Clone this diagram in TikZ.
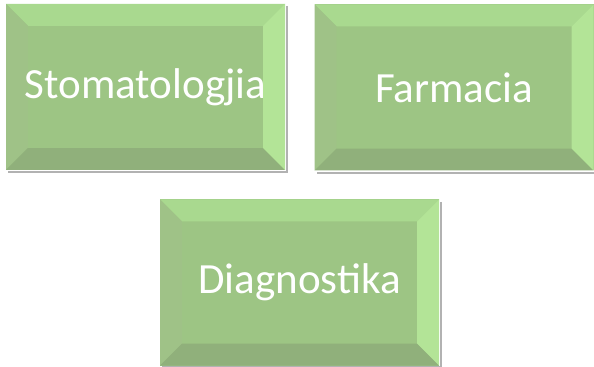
\documentclass[tikz,border=0pt]{standalone}
\usepackage{fontspec}
\setmainfont{Carlito}
\usepackage{tikz}

\definecolor{boxgreen}{HTML}{9DC584}
\definecolor{bevtop}{HTML}{A9D98F}
\definecolor{bevleft}{HTML}{9FC287}
\definecolor{bevbottom}{HTML}{90B07B}
\definecolor{bevright}{HTML}{B3E497}

\begin{document}
\begin{tikzpicture}[x=0.02cm, y=-0.02cm, every node/.style={font=\fontsize{24.5}{29}\selectfont}]
		\useasboundingbox (0,0) rectangle (594,367);
		\tikzset{
			bevelbox/.style={minimum width=279*0.02cm, minimum height=166*0.02cm,
				inner sep=0pt, fill=boxgreen, text=white,
				path picture={
					\path (path picture bounding box.north west) coordinate (nw)
						(path picture bounding box.south east) coordinate (se)
						(path picture bounding box.north east) coordinate (ne)
						(path picture bounding box.south west) coordinate (sw);
					\fill[bevtop] (nw) -- (ne) -- ([shift={(-0.44cm,-0.44cm)}]ne) -- ([shift={(0.44cm,-0.44cm)}]nw) -- cycle;
					\fill[bevleft] (nw) -- ([shift={(0.44cm,-0.44cm)}]nw) -- ([shift={(0.44cm,0.44cm)}]sw) -- (sw) -- cycle;
					\fill[bevbottom] (sw) -- ([shift={(0.44cm,0.44cm)}]sw) -- ([shift={(-0.44cm,0.44cm)}]se) -- (se) -- cycle;
					\fill[bevright] (se) -- ([shift={(-0.44cm,0.44cm)}]se) -- ([shift={(-0.44cm,-0.44cm)}]ne) -- (ne) -- cycle;
				}},
			boxshadow/.style={draw=black!30, line width=1.2pt}
		}
		
		% shadows
		\draw[boxshadow] (287,6) -- (287,172) -- (8,172);
		\draw[boxshadow] (595,6) -- (595,173) -- (317,173);
		\draw[boxshadow] (441,202) -- (441,367) -- (162,367);
		
		\node[bevelbox] (stoma) at (145.5,87) {Stomatologjia};
		\node[bevelbox] (farma) at (454,87.5) {Farmacia};
		\node[bevelbox] (diagn) at (299.5,282.5) {Diagnostika};
		
	\end{tikzpicture}
\end{document}
